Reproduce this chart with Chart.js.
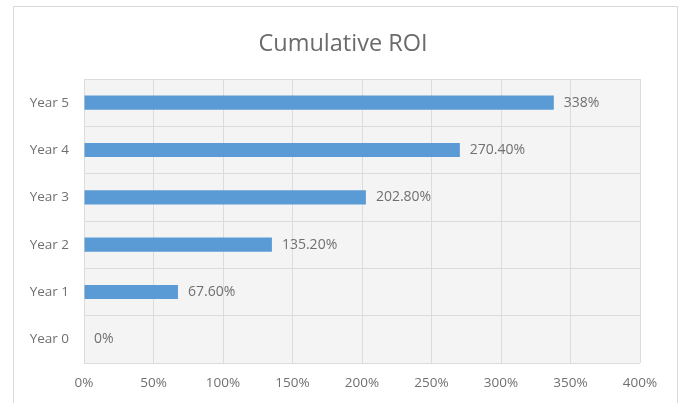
<!DOCTYPE html>
<html>
<head>
<meta charset="utf-8">
<script src="https://cdn.jsdelivr.net/npm/chart.js@4/dist/chart.umd.min.js"></script>
<style>
html,body{margin:0;padding:0;background:#fff;}
#wrap{width:684px;height:403px;position:relative;}
</style>
</head>
<body>
<div id="wrap"><canvas id="c" width="684" height="403"></canvas></div>
<script>
const categories = ['Year 0', 'Year 1', 'Year 2', 'Year 3', 'Year 4', 'Year 5'];
const roiValues = [0, 67.6, 135.2, 202.8, 270.4, 338];
const valueLabels = ['0%', '67.60%', '135.20%', '202.80%', '270.40%', '338%'];
const chartTitle = 'Cumulative ROI';

const FONT = "'Open Sans', 'Liberation Sans', sans-serif";
const TXT = '#707070';

const framePlugin = {
  id: 'frame',
  beforeDraw(chart) {
    const ctx = chart.ctx;
    const a = chart.chartArea;
    ctx.save();
    ctx.fillStyle = '#ffffff';
    ctx.fillRect(0, 0, chart.width, chart.height);
    ctx.strokeStyle = '#d9d9d9';
    ctx.lineWidth = 1;
    ctx.strokeRect(13.5, 6.5, 664, 400);
    ctx.fillStyle = '#f4f4f4';
    ctx.fillRect(a.left, a.top, a.right - a.left, a.bottom - a.top);
    ctx.fillStyle = '#6b6b6b';
    ctx.font = "23.5px " + FONT;
    ctx.textAlign = 'center';
    ctx.textBaseline = 'middle';
    ctx.fillText(chartTitle, 343, 44);
    ctx.restore();
  },
  afterDatasetsDraw(chart) {
    const ctx = chart.ctx;
    const meta = chart.getDatasetMeta(0);
    ctx.save();
    ctx.fillStyle = TXT;
    ctx.font = "14px " + FONT;
    ctx.textAlign = 'left';
    ctx.textBaseline = 'middle';
    meta.data.forEach((bar, i) => {
      ctx.fillText(valueLabels[i], bar.x + 10, bar.y);
    });
    ctx.restore();
  }
};

new Chart(document.getElementById('c'), {
  type: 'bar',
  data: {
    labels: categories,
    datasets: [{
      data: roiValues,
      backgroundColor: '#5B9BD5',
      borderWidth: 0,
      categoryPercentage: 1,
      barPercentage: 0.3
    }]
  },
  options: {
    indexAxis: 'y',
    responsive: false,
    animation: false,
    events: [],
    layout: { padding: { left: 13, right: 44, top: 79, bottom: 0 } },
    plugins: { legend: { display: false }, title: { display: false }, tooltip: { enabled: false } },
    scales: {
      x: {
        min: 0, max: 400,
        ticks: { stepSize: 50, callback: v => v + '%', color: TXT, font: { family: FONT, size: 13.5 }, padding: 12 },
        grid: { color: '#dcdcdc', drawTicks: false },
        border: { display: false },
        afterFit: s => { s.height = 40; }
      },
      y: {
        reverse: true,
        ticks: { color: TXT, font: { family: FONT, size: 13.5 }, padding: 15 },
        grid: { color: '#dcdcdc', drawTicks: false, offset: true },
        border: { display: false },
        afterFit: s => { s.width = 71; }
      }
    }
  },
  plugins: [framePlugin]
});
</script>
</body>
</html>
